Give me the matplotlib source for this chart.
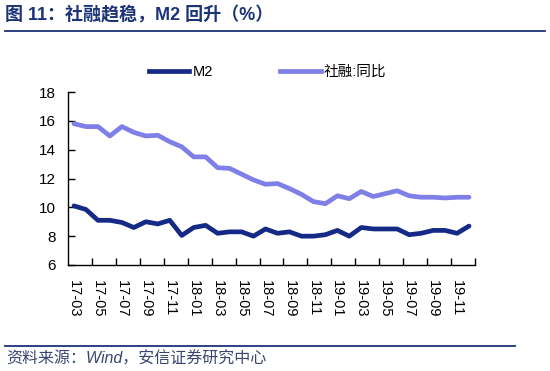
import matplotlib
matplotlib.use("Agg")
import matplotlib.pyplot as plt
from matplotlib.lines import Line2D
import numpy as np

plt.rcParams['font.family'] = ['Liberation Sans', 'Noto Sans CJK SC', 'DejaVu Sans']

months = ["17-03", "17-04", "17-05", "17-06", "17-07", "17-08", "17-09", "17-10", "17-11", "17-12",
          "18-01", "18-02", "18-03", "18-04", "18-05", "18-06", "18-07", "18-08", "18-09", "18-10",
          "18-11", "18-12", "19-01", "19-02", "19-03", "19-04", "19-05", "19-06", "19-07", "19-08",
          "19-09", "19-10", "19-11", "19-12"]
m2 = [10.1, 9.85, 9.1, 9.1, 8.95, 8.6, 9.0, 8.85, 9.1, 8.05,
      8.6, 8.75, 8.2, 8.3, 8.3, 8.0, 8.5, 8.2, 8.3, 8.0,
      8.0, 8.1, 8.4, 8.0, 8.6, 8.5, 8.5, 8.5, 8.1, 8.2,
      8.4, 8.4, 8.2, 8.7]
tsf = [15.8, 15.6, 15.6, 14.95, 15.6, 15.2, 14.95, 15.0, 14.55, 14.2,
       13.5, 13.5, 12.75, 12.7, 12.3, 11.9, 11.6, 11.65, 11.3, 10.9,
       10.4, 10.25, 10.8, 10.6, 11.1, 10.75, 10.95, 11.15, 10.8, 10.7,
       10.7, 10.65, 10.7, 10.7]
series_names = ["M2", "社融:同比"]
yticks = [6, 8, 10, 12, 14, 16, 18]

c_m2 = "#152a86"
c_tsf = "#7f7fe8"
navy = "#1c3378"

fig = plt.figure(figsize=(5.5, 3.71), dpi=100)
ax = fig.add_axes([68/550, 1-265/371, 407/550, 173/371])

x = np.arange(len(months))
ax.plot(x, m2, color=c_m2, lw=3.4, solid_capstyle='round', solid_joinstyle='round')
ax.plot(x, tsf, color=c_tsf, lw=3.4, solid_capstyle='round', solid_joinstyle='round')

ax.set_xlim(-0.5, len(months) - 0.5)
ax.set_ylim(6, 18)
ax.set_yticks(yticks)
ax.set_yticklabels([str(v) for v in yticks], fontsize=11)
ax.set_xticks(x[::2])
ax.set_xticklabels(months[::2], rotation=270, fontsize=10.5)
ax.set_xticks(np.arange(1.5, len(months), 2), minor=True)
ax.tick_params(axis='x', which='major', length=0, pad=11)
ax.tick_params(axis='x', which='minor', direction='in', length=5, width=1)
ax.tick_params(axis='y', direction='in', length=5, width=1, pad=9)

for s in ['top', 'right']:
    ax.spines[s].set_visible(False)
for s in ['left', 'bottom']:
    ax.spines[s].set_linewidth(1.0)
    ax.spines[s].set_color('black')

handles = [Line2D([], [], color=c_m2, lw=3.4), Line2D([], [], color=c_tsf, lw=3.4)]
fig.legend(handles, series_names, loc='center', bbox_to_anchor=(0.486, 0.806), ncol=2,
           frameon=False, fontsize=10.5, handlelength=2.8, handletextpad=0.2, columnspacing=4.6)

# title
fig.text(5/550, 1-15/371, "图 11：社融趋稳，M2 回升（%）", fontsize=13, fontweight='bold',
         color=navy, ha='left', va='center')
fig.add_artist(Line2D([5/550, 545/550], [1-31/371, 1-31/371], color=navy, lw=1.3))

# source
fig.add_artist(Line2D([5/550, 515/550], [1-346/371, 1-346/371], color=navy, lw=1.3))
fig.text(6/550, 1-359/371, "资料来源：Wind，安信证券研究中心", fontsize=11.5, style='italic',
         color="#3a4670", ha='left', va='center')

fig.savefig("out.png", dpi=100)
